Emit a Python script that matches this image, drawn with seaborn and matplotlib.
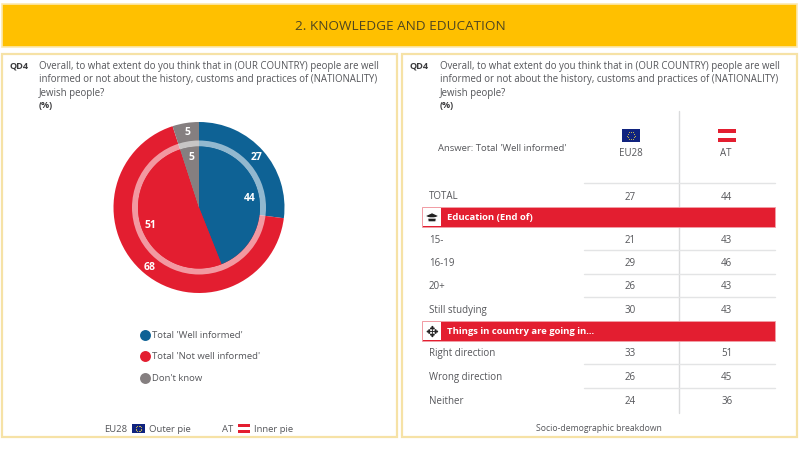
import numpy as np
import pandas as pd
import matplotlib.pyplot as plt
import seaborn as sns
from matplotlib.colors import ListedColormap
from matplotlib.patches import Rectangle, Polygon

# data
pie_labels = ["Total 'Well informed'", "Total 'Not well informed'", "Don't know"]
eu28_pie = [27, 68, 5]
at_pie = [44, 51, 5]

columns = ["EU28", "AT"]
total_rows = ["TOTAL"]
total_eu = [27]
total_at = [44]
edu_rows = ["15-", "16-19", "20+", "Still studying"]
edu_eu = [21, 29, 26, 30]
edu_at = [43, 46, 43, 43]
dir_rows = ["Right direction", "Wrong direction", "Neither"]
dir_eu = [33, 26, 24]
dir_at = [51, 45, 36]

question = ("Overall, to what extent do you think that in (OUR COUNTRY) people are well\n"
            "informed or not about the history, customs and practices of (NATIONALITY)\n"
            "Jewish people?")

BLUE = "#0E6295"
RED = "#E31E30"
GREY = "#857F80"
TEXT = "#55565A"
W, H = 800, 452

sns.set_theme(style="white")
plt.rcParams['font.family'] = ['Open Sans', 'DejaVu Sans']
palette = sns.color_palette([BLUE, RED, GREY])

fig = plt.figure(figsize=(8, 4.52), dpi=100)


def px_axes(x0, y0, x1, y1, z=1):
    # axes placed by pixel box, y measured from the top
    return fig.add_axes([x0 / W, 1 - y1 / H, (x1 - x0) / W, (y1 - y0) / H], zorder=z)


# background layer
bg = px_axes(0, 0, W, H, z=0)
bg.set_xlim(0, W)
bg.set_ylim(H, 0)
bg.axis('off')
bg.add_patch(Rectangle((2, 5), 795, 43, fc="#FFC000", ec="#FCE9B0", lw=1.2))
for x0 in [2, 402]:
    bg.add_patch(Rectangle((x0, 55), 395, 383, fc="white", ec="#F6E2A6", lw=1.6))

# pies
pie_ax = px_axes(199 - 90, 208.5 - 90, 199 + 90, 208.5 + 90, z=1)
R = 85.5
text_kw = dict(color="white", fontsize=7.5, fontweight='bold')
flat = dict(linewidth=0)
pie_ax.pie(eu28_pie, colors=palette, startangle=90, counterclock=False, radius=1,
           autopct=lambda p: f"{p:.0f}", pctdistance=0.9, textprops=text_kw, wedgeprops=flat)
pie_ax.pie([1], colors=["white"], radius=67 / R,
           wedgeprops=dict(width=6 / R, alpha=0.55, linewidth=0))
pie_ax.pie(at_pie, colors=palette, startangle=90, counterclock=False, radius=61 / R,
           autopct=lambda p: f"{p:.0f}", pctdistance=0.84, textprops=text_kw, wedgeprops=flat)
pie_ax.set_xlim(-90 / R, 90 / R)
pie_ax.set_ylim(-90 / R, 90 / R)


def value_block(eu, at, rows, y0, y1):
    # values of one table section, drawn as an annotated white heatmap
    ax = px_axes(582, y0, 775, y1, z=2)
    df = pd.DataFrame({columns[0]: eu, columns[1]: at}, index=rows)
    sns.heatmap(df, ax=ax, annot=True, fmt="d", cbar=False, cmap=ListedColormap(["white"]),
                xticklabels=False, yticklabels=False,
                annot_kws=dict(color=TEXT, fontsize=7))
    ax.set_xlabel("")
    ax.set_ylabel("")
    pitch = (y1 - y0) / len(rows)
    for i, lab in enumerate(rows):
        top.text(429, y0 + (i + 0.5) * pitch, lab, color=TEXT, fontsize=7, va='center')


# foreground layer for text, rules and icons
top = px_axes(0, 0, W, H, z=3)
top.set_xlim(0, W)
top.set_ylim(H, 0)
top.axis('off')
top.patch.set_alpha(0)

value_block(total_eu, total_at, total_rows, 186, 208)
value_block(edu_eu, edu_at, edu_rows, 228.5, 322)
value_block(dir_eu, dir_at, dir_rows, 341, 414)

top.text(400, 26.5, "2. KNOWLEDGE AND EDUCATION", ha='center', va='center',
         fontsize=9.7, color="#4F4620")

for x_q, x_t in [(10, 39), (410, 440)]:
    top.text(x_q, 66, "QD4", fontsize=6.6, fontweight='bold', color="#3A3A3C", va='center')
    top.text(x_t, 61, question, fontsize=6.9, color=TEXT, va='top', linespacing=1.31)
    top.text(x_t, 106, "(%)", fontsize=6.6, fontweight='bold', color="#3A3A3C", va='center')


def eu_flag(x, y, w, h):
    top.add_patch(Rectangle((x, y), w, h, fc="#10237F", ec="none"))
    a = np.arange(12) * np.pi / 6
    top.scatter(x + w / 2 + h * 0.3 * np.cos(a), y + h / 2 + h * 0.3 * np.sin(a),
                s=0.6, color="#D8C64A", linewidths=0)


def at_flag(x, y, w, h):
    top.add_patch(Rectangle((x, y), w, h / 3, fc=RED, ec="none"))
    top.add_patch(Rectangle((x, y + 2 * h / 3), w, h / 3, fc=RED, ec="none"))


# pie legend
for y, lab, col in zip([335.5, 357, 379], pie_labels, palette):
    top.scatter([145], [y], s=62, color=col, linewidths=0)
    top.text(152, y, lab, fontsize=6.8, color=TEXT, va='center')

# pie footer
top.text(104, 430, "EU28", fontsize=6.8, color=TEXT, va='center')
eu_flag(132, 425, 13, 9)
top.text(149, 430, "Outer pie", fontsize=6.8, color=TEXT, va='center')
top.text(222, 430, "AT", fontsize=6.8, color=TEXT, va='center')
at_flag(237.5, 425, 12.5, 9)
top.text(254, 430, "Inner pie", fontsize=6.8, color=TEXT, va='center')

# table header
top.text(438, 149, "Answer: Total 'Well informed'", fontsize=6.8, color=TEXT, va='center')
eu_flag(622, 130, 18, 13)
at_flag(717.5, 130, 18.5, 13)
top.text(631, 154, columns[0], fontsize=7, color=TEXT, ha='center', va='center')
top.text(726, 154, columns[1], fontsize=7, color=TEXT, ha='center', va='center')

# table rules
top.plot([679, 679], [112, 414], color="#DADBDC", lw=1, zorder=1)
for y in [184, 250.5, 274.5, 298, 365, 389]:
    top.plot([584, 775], [y, y], color="#E3E4E5", lw=1, zorder=1)

# section bars
for y, lab in [(207.5, "Education (End of)"), (322, "Things in country are going in...")]:
    top.add_patch(Rectangle((421.5, y), 353, 20, fc=RED, ec="#F2A0A8", lw=0.6, zorder=2))
    top.add_patch(Rectangle((423, y + 1), 18, 18, fc="white", ec="none", zorder=2.1))
    top.text(447, y + 10, lab, color="white", fontsize=6.8, fontweight='bold', va='center')

# graduation cap and cross icons
top.add_patch(Polygon([(424.5, 217), (432, 213.5), (439.5, 217), (432, 220.5)], fc="#222222", zorder=2.2))
top.add_patch(Polygon([(427.5, 219), (436.5, 219), (436, 223), (428, 223)], fc="#222222", zorder=2.2))
top.text(432, 332, "\u2725", fontsize=11, color="#222222", ha='center', va='center',
         family='DejaVu Sans')

top.text(599, 429, "Socio-demographic breakdown", fontsize=6.2, color=TEXT, ha='center', va='center')

fig.savefig("out.png", dpi=100)
